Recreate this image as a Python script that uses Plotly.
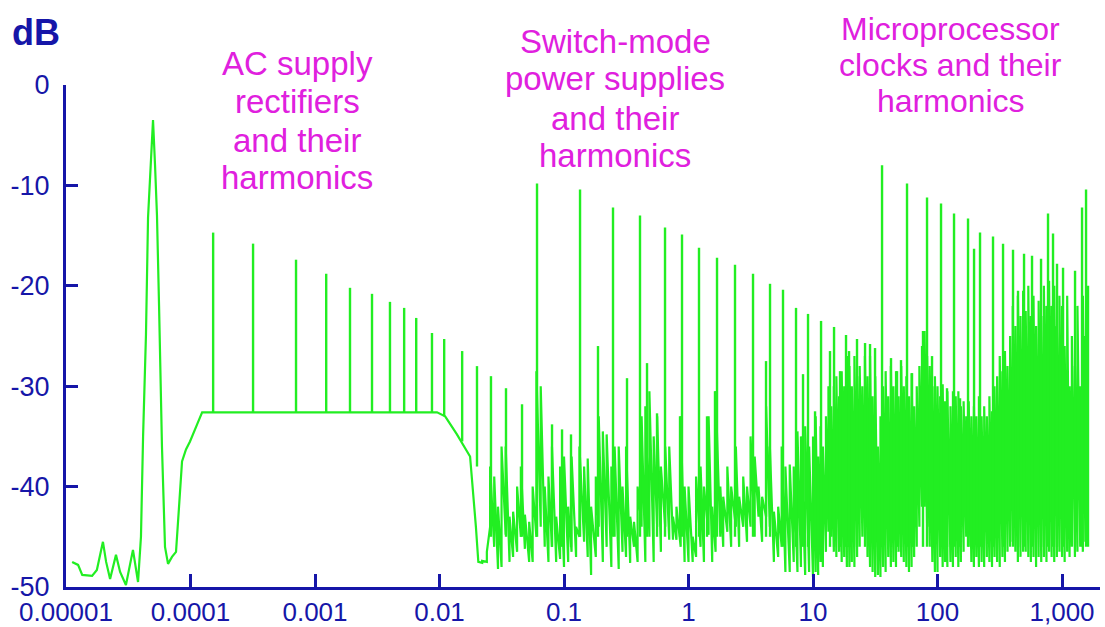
import plotly.graph_objects as go

# ---------------- data (frequency in MHz, level in dB) ----------------
# low-frequency noise, 50 Hz mains peak, rectifier plateau and its roll-off
base_f = [1.12e-5, 1.25e-5, 1.35e-5, 1.62e-5, 1.77e-5, 1.98e-5, 2.10e-5, 2.26e-5,
          2.52e-5, 2.72e-5, 3.03e-5, 3.45e-5, 3.79e-5, 4.00e-5, 4.16e-5, 4.39e-5,
          4.56e-5, 4.73e-5, 5.00e-5, 5.19e-5, 5.38e-5, 5.59e-5, 5.90e-5, 6.24e-5,
          6.60e-5, 7.10e-5, 7.65e-5, 8.09e-5, 8.55e-5, 9.20e-5, 9.91e-5, 1.13e-4,
          1.24e-4, 9.55e-3, 1.11e-2, 1.38e-2, 1.76e-2, 1.96e-2]
base_db = [-47.5, -47.8, -48.8, -48.9, -48.3, -45.5, -47.5, -49.2,
           -46.8, -48.5, -49.8, -46.3, -49.5, -45.0, -35.0, -24.8,
           -13.2, -9.0, -3.5, -8.0, -13.0, -22.0, -36.0, -46.0,
           -47.7, -47.0, -46.5, -42.0, -37.5, -36.3, -35.5, -33.8,
           -32.6, -32.6, -33.0, -34.8, -37.0, -44.0]

# broadband "grass": at each sample the trace swings between a low and a high level
grass_f_1 = [0.0205, 0.022, 0.024, 0.0255, 0.0275, 0.0295, 0.0315, 0.034, 0.0365, 0.039, 0.042,
             0.045, 0.0485, 0.0525, 0.056, 0.060, 0.065, 0.070, 0.075, 0.080, 0.0865, 0.093]
grass_lo_1 = [-47.5, -47.6, -47.5, -44.0, -46.0, -48.2, -48.0, -44.8, -47.5, -47.0, -46.5,
              -45.0, -46.2, -47.5, -47.5, -45.0, -44.0, -46.0, -47.5, -46.0, -47.5, -47.2]
grass_hi_1 = [-47.5, -47.4, -46.5, -38.0, -39.0, -42.0, -36.0, -36.0, -43.0, -42.5, -40.0,
              -38.0, -42.8, -43.5, -40.0, -28.5, -30.0, -40.0, -39.0, -36.0, -43.0, -38.0]

grass_f_2 = [0.10, 0.108, 0.115, 0.125, 0.133, 0.145, 0.155, 0.165, 0.18, 0.19, 0.205, 0.22,
             0.24, 0.255, 0.275, 0.295, 0.315, 0.34, 0.365, 0.39, 0.42, 0.45, 0.485, 0.525,
             0.56, 0.60, 0.65, 0.70, 0.75, 0.80, 0.865, 0.93]
grass_lo_2 = [-48.0, -47.5, -46.5, -47.0, -45.0, -45.5, -47.0, -48.8, -47.0, -44.0, -47.5, -46.0,
              -48.0, -45.0, -48.2, -46.5, -47.0, -47.6, -46.0, -47.5, -44.0, -47.5, -45.0, -47.5,
              -44.0, -46.5, -44.0, -45.3, -45.3, -45.3, -46.0, -47.5]
grass_hi_2 = [-37.0, -42.0, -37.0, -44.0, -36.0, -38.0, -37.2, -42.0, -39.0, -33.0, -34.5, -34.8,
              -38.0, -36.0, -36.0, -40.0, -36.0, -43.0, -43.5, -40.0, -33.0, -32.0, -30.5, -35.0,
              -33.0, -38.0, -36.0, -36.0, -43.0, -42.0, -33.0, -40.0]

grass_f_3 = [1.0, 1.08, 1.15, 1.25, 1.33, 1.45, 1.55, 1.65, 1.8, 1.9, 2.05, 2.2, 2.4, 2.55,
             2.75, 2.95, 3.15, 3.4, 3.65, 3.9, 4.2, 4.5, 4.85, 5.25, 5.6, 6.0, 6.5, 7.0,
             7.5, 8.0, 8.65, 9.3]
grass_lo_3 = [-47.5, -47.5, -47.0, -46.0, -47.5, -44.8, -47.5, -46.5, -45.0, -46.0, -44.5, -46.0,
              -44.0, -46.0, -44.0, -45.5, -44.0, -45.0, -43.0, -45.5, -43.0, -44.0, -47.5, -47.0,
              -46.0, -48.5, -48.5, -47.5, -48.5, -48.0, -48.8, -48.5]
grass_hi_3 = [-40.0, -45.0, -39.0, -38.0, -40.0, -33.0, -42.0, -30.5, -40.0, -41.0, -38.0, -40.0,
              -36.0, -41.0, -39.0, -40.0, -35.0, -37.0, -40.0, -41.0, -32.0, -36.0, -42.5, -42.0,
              -36.0, -38.0, -37.8, -38.0, -34.5, -35.0, -34.0, -36.0]

grass_f_4 = [10, 10.5, 11, 11.5, 12, 12.7, 13.3, 14, 14.7, 15.4, 16.2, 17, 17.8, 18.7, 19.6,
             20.5, 21.5, 22.6, 23.7, 24.9, 26.1, 27.4, 28.7, 30.1, 31.6, 33.2, 34.8, 36.5,
             38.3, 40.2, 42.2, 44.2, 46.4, 48.7, 51.1, 53.6, 56.2, 59, 61.9, 64.9, 68.1,
             71.5, 75, 78.7, 82.5, 86.6, 90.9, 95.3]
grass_lo_4 = [-49.0, -48.5, -48.8, -47.5, -48.0, -46.5, -44.5, -45.0, -46.5, -47.0, -46.5, -47.5,
              -47.0, -48.0, -48.0, -47.5, -48.0, -47.0, -46.0, -45.0, -45.0, -47.0, -48.0, -48.5,
              -49.0, -48.8, -49.0, -48.0, -48.5, -47.0, -48.0, -47.5, -48.0, -46.5, -47.0, -47.5,
              -48.0, -48.5, -48.0, -47.0, -46.0, -44.0, -42.0, -42.0, -44.0, -46.0, -47.5, -48.5]
grass_hi_4 = [-35.0, -33.0, -37.0, -34.0, -36.0, -33.0, -30.0, -32.0, -30.0, -29.0, -31.0, -28.5,
              -30.0, -27.0, -28.0, -30.0, -27.0, -29.0, -28.0, -30.0, -27.0, -29.0, -27.0, -31.0,
              -29.0, -36.0, -33.0, -30.0, -28.5, -31.0, -28.0, -30.0, -28.5, -31.0, -28.0, -30.0,
              -29.0, -31.0, -28.7, -32.0, -30.0, -28.0, -26.0, -24.5, -27.0, -28.0, -30.0, -29.0]

grass_f_5 = [100, 105, 110, 115, 120, 127, 133, 140, 147, 154, 162, 170, 178, 187, 196, 205,
             215, 226, 237, 249, 261, 274, 287, 301, 316, 332, 348, 365, 383, 402, 422, 442,
             464, 487, 511, 536, 562, 590, 619, 649, 681, 715, 750, 787, 825, 866, 909, 953]
grass_lo_5 = [-48.5, -47.0, -48.0, -47.5, -48.0, -47.5, -48.0, -47.0, -48.0, -47.5, -46.5, -45.0,
              -46.0, -47.5, -48.0, -47.0, -48.0, -47.5, -48.0, -47.0, -47.5, -48.0, -47.0, -47.5,
              -48.0, -47.0, -47.5, -46.5, -46.0, -45.5, -46.5, -47.5, -47.0, -46.5, -46.5, -47.0,
              -47.5, -47.0, -48.0, -47.0, -47.5, -47.0, -47.5, -46.5, -47.0, -47.5, -47.0, -46.5]
grass_hi_5 = [-30.0, -31.0, -29.8, -31.5, -30.5, -32.0, -30.5, -31.0, -30.5, -32.0, -31.5, -33.0,
              -31.5, -33.0, -32.0, -33.0, -31.0, -33.0, -32.0, -33.0, -31.0, -32.5, -30.0, -29.0,
              -27.0, -28.5, -26.5, -28.0, -25.0, -22.0, -24.0, -21.0, -23.0, -20.5, -22.5, -20.0,
              -23.0, -21.0, -24.0, -21.5, -23.0, -20.0, -22.0, -19.5, -22.0, -20.0, -24.0, -21.0]

grass_f_6 = [1000, 1050, 1100, 1150, 1200, 1270, 1330, 1400, 1470, 1540, 1620]
grass_lo_6 = [-47.0, -47.5, -46.5, -47.0, -46.0, -47.0, -46.5, -46.0, -46.5, -45.5, -46.0]
grass_hi_6 = [-22.0, -26.0, -21.0, -30.0, -25.0, -28.0, -22.0, -30.0, -21.0, -25.0, -20.0]

# discrete harmonic lines: frequency, peak level, level at the foot of the line
spike_f = [0.000152, 0.000318, 0.000704, 0.00123, 0.00191, 0.00287, 0.0040, 0.0052, 0.0065,
           0.0087, 0.0109, 0.0152, 0.0200, 0.0259, 0.0342, 0.0460,
           0.0801, 0.0964, 0.1138, 0.1875, 0.3206, 0.4642, 0.5585, 0.8546, 1.408, 1.632,
           4.193, 8.312, 10.38, 13.69, 16.48, 19.46, 28.70, 47.29, 62.40, 76.45, 90.32,
           119.2, 151.6, 443.2,
           0.0607, 0.1345, 0.2475, 0.4077, 0.6476, 0.8867, 1.214, 1.694, 2.363, 3.297,
           4.515, 5.741, 7.302, 9.116, 11.60, 14.75, 18.41, 22.56, 26.17, 31.48, 42.31, 50.9,
           35.84, 56.89, 82.36, 106.7, 135.7, 175.8, 196.5, 219.5, 279.1, 335.9, 404.0,
           495.3, 574.1, 678.3, 771.8, 846.6, 911.6, 1019, 1272, 1448, 1559]
spike_peak = [-14.7, -15.8, -17.4, -18.8, -20.2, -20.8, -21.6, -22.2, -23.2,
              -24.7, -25.3, -26.5, -28.0, -29.0, -30.2, -31.8,
              -33.8, -34.3, -34.8, -26.0, -29.2, -27.7, -32.7, -33.0, -33.0, -30.5,
              -27.5, -28.8, -32.5, -26.5, -28.5, -26.5, -25.8, -28.5, -28.7, -24.5, -27.0,
              -30.2, -31.2, -20.5,
              -9.8, -10.4, -12.2, -13.0, -14.2, -14.9, -16.2, -17.2, -17.9, -18.8,
              -19.8, -20.4, -22.2, -22.8, -23.5, -24.1, -24.9, -25.3, -25.7, -26.2, -27.2, -27.4,
              -8.0, -9.8, -11.2, -11.8, -12.8, -13.3, -16.3, -14.7, -15.1, -15.8, -16.4,
              -16.8, -17.0, -17.3, -12.8, -14.8, -17.8, -18.2, -18.5, -12.2, -10.4]
spike_base = [-32.6, -32.6, -32.6, -32.6, -32.6, -32.6, -32.6, -32.6, -32.6,
              -32.6, -33.0, -35.5, -38.0, -45.0, -45.0, -45.0,
              -46.0, -46.0, -46.0, -45.0, -45.0, -45.0, -45.0, -45.0, -45.0, -45.0,
              -45.0, -46.0, -46.0, -46.0, -46.0, -46.0, -46.0, -46.0, -46.0, -46.0, -46.0,
              -46.0, -46.0, -46.0,
              -45.0, -45.0, -45.0, -45.0, -45.0, -45.0, -45.0, -45.0, -45.0, -45.0,
              -45.0, -46.0, -46.0, -46.0, -46.0, -46.0, -46.0, -46.0, -46.0, -46.0, -46.0, -46.0,
              -46.0, -46.0, -46.0, -46.0, -46.0, -46.0, -46.0, -46.0, -46.0, -46.0, -46.0,
              -46.0, -46.0, -46.0, -46.0, -46.0, -46.0, -46.0, -46.0, -46.0, -46.0]

x_tickvals = [1e-5, 1e-4, 1e-3, 1e-2, 1e-1, 1, 10, 100, 1000]
x_ticktext = ["0.00001", "0.0001", "0.001", "0.01", "0.1", "1", "10", "100", "1,000"]
y_tickvals = [0, -10, -20, -30, -40, -50]
y_ticktext = ["0", "-10", "-20", "-30", "-40", "-50"]

# label lines with their centre position in page pixels and font size
labels = [
    ("AC supply", 297, 63, 33), ("rectifiers", 297, 102, 33), ("and their", 297, 140, 33),
    ("harmonics", 297, 178, 33),
    ("Switch-mode", 615, 41, 33), ("power supplies", 615, 78, 33), ("and their", 615, 118, 33),
    ("harmonics", 615, 155, 33),
    ("Microprocessor", 950, 29, 32), ("clocks and their", 950, 65, 32), ("harmonics", 951, 101, 32),
]

# ---------------- build traces ----------------
GREEN = "#22EE22"
BLUE = "#1616A8"
MAGENTA = "#E020DE"

line_x = list(base_f)
line_y = list(base_db)
for fs, los, his in [(grass_f_1, grass_lo_1, grass_hi_1), (grass_f_2, grass_lo_2, grass_hi_2),
                     (grass_f_3, grass_lo_3, grass_hi_3), (grass_f_4, grass_lo_4, grass_hi_4),
                     (grass_f_5, grass_lo_5, grass_hi_5), (grass_f_6, grass_lo_6, grass_hi_6)]:
    for f, lo, hi in zip(fs, los, his):
        line_x += [f, f]
        line_y += [lo, hi]

sx, sy = [], []
for f, pk, b in zip(spike_f, spike_peak, spike_base):
    sx += [f, f, None]
    sy += [b, pk, None]

fig = go.Figure()
fig.add_trace(go.Scatter(x=line_x, y=line_y, mode="lines",
                         line=dict(color=GREEN, width=2.2), hoverinfo="skip", showlegend=False))
fig.add_trace(go.Scatter(x=sx, y=sy, mode="lines",
                         line=dict(color=GREEN, width=2.4), hoverinfo="skip", showlegend=False))

W, H = 1105, 627
L, R, T, B = 66, 5, 85, 40
pw, ph = W - L - R, H - T - B


def px_to_paper(px, py):
    return (px - L) / pw, (H - B - py) / ph


annotations = []
for txt, px, py, fs in labels:
    ax, ay = px_to_paper(px, py)
    annotations.append(dict(text=txt, x=ax, y=ay, xref="paper", yref="paper",
                            xanchor="center", yanchor="middle", showarrow=False,
                            font=dict(family="Liberation Sans, Arial, sans-serif", size=fs, color=MAGENTA)))
ax, ay = px_to_paper(36, 32)
annotations.append(dict(text="<b>dB</b>", x=ax, y=ay, xref="paper", yref="paper",
                        xanchor="center", yanchor="middle", showarrow=False,
                        font=dict(family="Liberation Sans, Arial, sans-serif", size=36, color=BLUE)))

ytickfont = dict(family="Liberation Sans, Arial, sans-serif", size=27, color=BLUE)
xtickfont = dict(family="Liberation Sans, Arial, sans-serif", size=26, color=BLUE)
fig.update_layout(
    width=W, height=H,
    margin=dict(l=L, r=R, t=T, b=B, autoexpand=False),
    paper_bgcolor="white", plot_bgcolor="white",
    annotations=annotations,
    xaxis=dict(type="log", range=[-5, 3.305], tickvals=x_tickvals, ticktext=x_ticktext,
               automargin=False,
               showgrid=False, zeroline=False, showline=True, linecolor=BLUE, linewidth=3,
               ticks="inside", ticklen=13, tickwidth=3, tickcolor=BLUE,
               tickfont=xtickfont, ticklabelstandoff=0),
    yaxis=dict(range=[-50, 0], tickvals=y_tickvals, ticktext=y_ticktext,
               automargin=False,
               showgrid=False, zeroline=False, showline=True, linecolor=BLUE, linewidth=3,
               ticks="inside", ticklen=12, tickwidth=3, tickcolor=BLUE,
               tickfont=ytickfont, ticklabelstandoff=8),
)

fig.write_html("out.html")
